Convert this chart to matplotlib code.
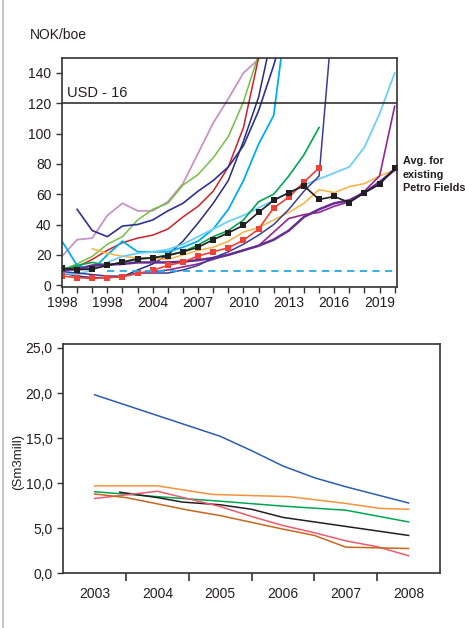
import numpy as np
import matplotlib
matplotlib.use("Agg")
import matplotlib.pyplot as plt
from matplotlib.lines import Line2D

plt.rcParams['font.family'] = ['Liberation Sans', 'DejaVu Sans']
txt = '#231f20'

# ---- top chart: unit cost per field (NOK/boe), series start year + values
lilac_start, lilac = 1998, [19, 30, 31, 46, 54, 49, 49, 55, 67, 87, 107, 123, 140, 149]
lgreen_start, lgreen = 1998, [10, 14, 19, 27, 32, 43, 50, 54, 66, 73, 84, 98, 121, 152]
red_start, red = 1998, [10, 12, 17, 23, 28, 31, 33, 37, 45, 52, 62, 78, 104, 150]
navy_start, navy = 1999, [50, 36, 32, 39, 40, 43, 49, 54, 62, 69, 78, 92, 115, 145, 180]
indigo_start, indigo = 1998, [8, 6, 5, 5, 5.5, 10, 14, 20, 29, 41, 54, 69, 95, 124, 170]
cyan_start, cyan = 1998, [29, 13, 10, 20, 29, 22, 22, 22, 25, 29, 37, 50, 69, 93, 112, 190]
orange_start, orange = 2000, [24, 21, 19, 18, 17.5, 17, 20, 23, 25, 29, 35, 38, 43, 48, 54,
                              63, 61, 65, 67, 72, 76]
ltblue_start, ltblue = 1998, [8, 7, 10, 15, 19, 21, 22, 23.5, 27, 32, 37, 42, 46, 51, 56, 61,
                              66, 70, 74, 78, 91, 113, 140]
green_start, green = 1998, [10, 13, 15, 13, 15, 17, 18, 20, 22, 26.5, 32, 36, 43, 55, 60, 72,
                            86, 104]
magenta_start, magenta = 2004, [9, 10, 12, 14, 17, 20, 23, 26, 35, 44, 46.5, 48, 52, 55, 62,
                                 72, 118]
violet_start, violet = 1998, [10, 10.5, 13, 13.5, 14, 15, 15, 15, 15.5, 16.5, 18, 20, 23, 26,
                              30, 36, 45, 50, 54, 56, 61, 68, 76]
navy2_start, navy2 = 1998, [9, 8, 7, 6, 6, 8, 8, 8, 10, 13, 18, 22, 27, 33, 40, 50, 62, 72, 189]
redsq_start, redsq = 1998, [6, 5, 4.4, 5, 5.5, 7.7, 9.8, 13, 15.2, 19.2, 22, 24.7, 29.6, 37,
                            51, 58, 68, 77.4]
avg_start, avg = 1998, [11.3, 10.2, 10.6, 13, 15.3, 17.5, 18, 19.5, 22, 25, 30, 34.5, 39.5, 48,
                        56, 61, 65.5, 56.5, 58.5, 54.5, 61, 66.5, 77]
usd16 = 120
floor_level, floor_start = 9.2, 2001

top_yticks = [0, 20, 40, 60, 80, 100, 120, 140]
top_xticks = list(range(1998, 2021))
top_xlabels = ['1998', '', '', '1998', '', '', '2004', '', '', '2007', '', '', '2010', '', '',
               '2013', '', '', '2016', '', '', '2019', '']

# ---- bottom chart: production (Sm3mill) per year
years_b = [2003, 2004, 2005, 2006, 2007, 2008]
blue_x = [2003, 2004, 2005, 2005.5, 2006, 2006.5, 2007, 2008]
blue_y = [19.8, 17.5, 15.2, 13.6, 11.9, 10.6, 9.6, 7.8]
orange_x = [2003, 2004, 2004.87, 2006.1, 2007, 2007.55, 2008]
orange_y = [9.7, 9.7, 8.75, 8.5, 7.75, 7.2, 7.1]
green_x = [2003, 2004, 2005, 2006, 2007, 2008]
green_y = [9.05, 8.5, 8.0, 7.45, 7.0, 5.7]
black_x = [2003.4, 2004, 2004.4, 2005, 2005.5, 2006, 2006.5, 2007, 2008]
black_y = [9.0, 8.4, 7.9, 7.6, 7.1, 6.2, 5.7, 5.2, 4.2]
pink_x = [2003, 2004, 2005, 2005.5, 2006, 2006.5, 2007, 2007.5, 2008]
pink_y = [8.3, 9.1, 7.4, 6.3, 5.3, 4.5, 3.6, 2.95, 1.95]
brown_x = [2003, 2003.5, 2004, 2004.5, 2005, 2006, 2006.5, 2007, 2008]
brown_y = [8.8, 8.4, 7.7, 7.0, 6.4, 4.9, 4.2, 2.9, 2.75]
bot_yticks = [0, 5, 10, 15, 20, 25]

fig = plt.figure(figsize=(4.65, 6.28), dpi=100)

# page frame line on the left
fig.add_artist(Line2D([0.0075, 0.0075], [0, 1], transform=fig.transFigure,
                      color='#c8c8c8', lw=1.5))

# ================= top chart
ax = fig.add_axes([0.1333, 0.5435, 0.7204, 0.3646])

def yrs(start, vals):
    return np.arange(start, start + len(vals))

series = [
    (lilac_start, lilac, '#c993c7', 1.3),
    (lgreen_start, lgreen, '#72bf44', 1.1),
    (red_start, red, '#cf2027', 1.1),
    (navy_start, navy, '#2e3192', 1.2),
    (indigo_start, indigo, '#2b2a7a', 1.1),
    (cyan_start, cyan, '#00aeef', 1.3),
    (orange_start, orange, '#fbb040', 1.1),
    (ltblue_start, ltblue, '#6dcff6', 1.3),
    (green_start, green, '#00a651', 1.2),
    (magenta_start, magenta, '#92278f', 1.2),
    (violet_start, violet, '#662d91', 1.8),
    (navy2_start, navy2, '#3c3b97', 1.1),
]
for start, vals, col, lw in series:
    ax.plot(yrs(start, vals), vals, color=col, lw=lw)

ax.plot(yrs(redsq_start, redsq), redsq, color='#ef4136', lw=1.2, marker='s',
        markersize=5, markeredgewidth=0)
ax.plot(yrs(avg_start, avg), avg, color='#231f20', lw=1.2, marker='s',
        markersize=5, markeredgewidth=0)

ax.axhline(usd16, color='#231f20', lw=1.1)
ax.plot([floor_start, 2020.3], [floor_level, floor_level], color='#27aae1',
        lw=1.3, ls=(0, (4, 3)))
ax.text(1998.35, usd16 + 2, 'USD - 16', fontsize=10.5, color=txt, va='bottom')

ax.set_xlim(1998, 2020.15)
ax.set_ylim(-1, 150)
ax.set_yticks(top_yticks)
ax.set_xticks(top_xticks)
ax.set_xticklabels(top_xlabels)
ax.tick_params(direction='out', length=4, width=1, colors='#333333',
               labelcolor=txt, labelsize=10)
ax.tick_params(axis='x', pad=3)
for s in ax.spines.values():
    s.set_color('#333333')
    s.set_linewidth(1.2)

fig.text(30 / 465, 1 - 35 / 628, 'NOK/boe', fontsize=10, color=txt, va='center')
fig.text(403 / 465, 1 - 156 / 628, 'Avg. for\nexisting\nPetro Fields', fontsize=7.8,
         fontweight='bold', color=txt, va='top', linespacing=1.45)

# ================= bottom chart
bx = fig.add_axes([0.1361, 0.0871, 0.8101, 0.3646])
bx.plot(blue_x, blue_y, color='#2a5db0', lw=1.1)
bx.plot(orange_x, orange_y, color='#f7923a', lw=1.1)
bx.plot(green_x, green_y, color='#00a650', lw=1.1)
bx.plot(black_x, black_y, color='#231f20', lw=1.1)
bx.plot(pink_x, pink_y, color='#ef5a6f', lw=1.1)
bx.plot(brown_x, brown_y, color='#c8661e', lw=1.1)

bx.set_xlim(years_b[0] - 0.5, years_b[-1] + 0.5)
bx.set_ylim(0, 25.4)
bx.set_yticks(bot_yticks)
bx.set_yticklabels([f'{v:.1f}'.replace('.', ',') for v in bot_yticks])
bx.set_xticks([y + 0.5 for y in years_b[:-1]])
bx.set_xticklabels([])
bx.set_xticks(years_b, minor=True)
bx.set_xticklabels([str(y) for y in years_b], minor=True)
bx.tick_params(axis='x', which='major', direction='out', length=6, width=1.2,
               colors='#333333')
bx.tick_params(axis='x', which='minor', length=0, pad=10, labelsize=10, labelcolor=txt)
bx.tick_params(axis='y', direction='out', length=4, width=1, colors='#333333',
               labelcolor=txt, labelsize=10)
for s in bx.spines.values():
    s.set_color('#333333')
    s.set_linewidth(1.2)
fig.text(18 / 465, 1 - 462 / 628, '(Sm3mill)', fontsize=9.5, color=txt,
         rotation=90, va='center', ha='center')

fig.savefig('out.png', dpi=100)
